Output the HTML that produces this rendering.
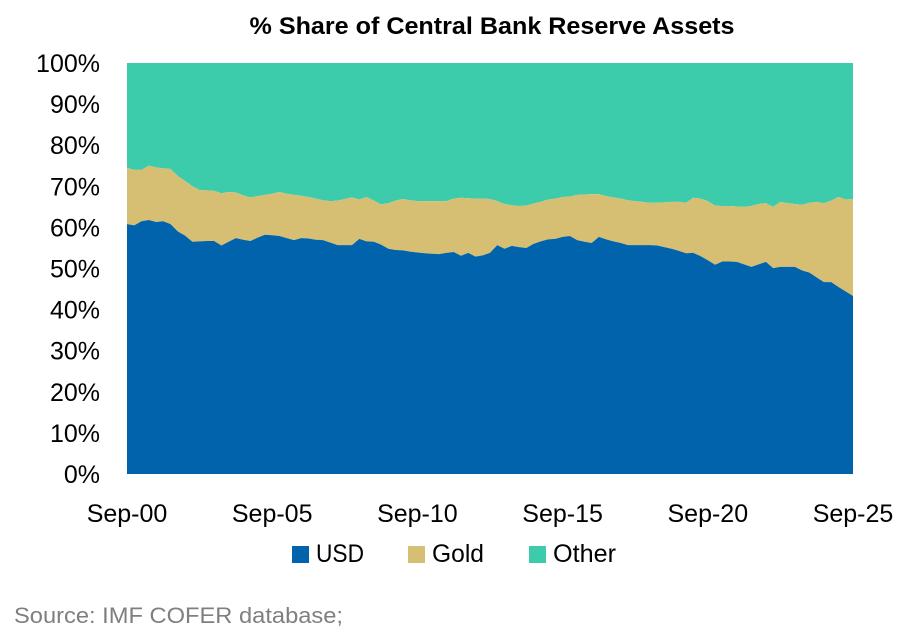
<!DOCTYPE html>
<html><head><meta charset="utf-8"><style>
body{margin:0;background:#fff;}
svg text{font-family:"Liberation Sans",sans-serif;}
</style></head><body>
<svg id="chart" width="910" height="633" xmlns="http://www.w3.org/2000/svg">
<text x="492" y="34" text-anchor="middle" font-size="24" font-weight="bold" textLength="485" lengthAdjust="spacingAndGlyphs">% Share of Central Bank Reserve Assets</text>
<g id="plot"></g>
<g id="yaxis"></g>
<g id="xaxis"></g>
<g>
<g><rect x="292" y="546" width="17" height="17" fill="#0063ac"/><text x="316" y="562" font-size="25" textLength="48" lengthAdjust="spacingAndGlyphs">USD</text></g>
<g><rect x="408" y="546" width="17" height="17" fill="#d6bf72"/><text x="432" y="562" font-size="25" textLength="52" lengthAdjust="spacingAndGlyphs">Gold</text></g>
<g><rect x="529" y="546" width="17" height="17" fill="#3ccbab"/><text x="553" y="562" font-size="25" textLength="63" lengthAdjust="spacingAndGlyphs">Other</text></g>
</g>
<text x="14" y="623" font-size="22" fill="#7f7f7f" textLength="329" lengthAdjust="spacingAndGlyphs">Source: IMF COFER database;</text>
</svg>
<script>
const usdShare=[60.8,60.5,61.5,61.8,61.3,61.5,60.8,59,58,56.5,56.6,56.7,56.7,55.6,56.5,57.4,57,56.7,57.5,58.2,58.1,57.9,57.4,56.9,57.4,57.3,57,56.9,56.3,55.7,55.7,55.7,57.2,56.6,56.5,55.8,54.8,54.5,54.4,54.1,53.9,53.7,53.6,53.5,53.8,54,53.1,53.8,52.9,53.2,53.8,55.7,54.8,55.5,55.2,55,56,56.6,57.1,57.2,57.7,57.9,56.9,56.5,56.2,57.7,57.1,56.6,56.2,55.7,55.7,55.7,55.7,55.6,55.2,54.8,54.3,53.7,53.8,53,52,50.9,51.7,51.7,51.6,51,50.4,51,51.6,50.1,50.4,50.4,50.4,49.5,49,47.8,46.7,46.7,45.5,44.4,43.3];
const usdPlusGold=[74.5,74,74,75,74.6,74.4,74.2,72.5,71.3,70,69.1,69,68.9,68.3,68.6,68.5,67.8,67.3,67.6,67.9,68.2,68.6,68.2,67.9,67.7,67.4,67,66.6,66.4,66.5,66.9,67.3,66.8,67.4,66.5,65.6,65.9,66.5,66.9,66.6,66.4,66.4,66.4,66.4,66.4,67,67.2,67.1,67,67,66.9,66.4,65.7,65.4,65.2,65.3,65.8,66.2,66.8,67,67.4,67.5,67.9,68,68.1,68.1,67.6,67.3,67,66.6,66.4,66.2,66,66,66.1,66.2,66.2,66,67.2,67,66.4,65.3,65.2,65.2,65.1,65,65.2,65.7,65.9,65,66.2,65.9,65.7,65.5,66,66.2,65.9,66.5,67.4,66.8,66.9];
const yTicks=[0,10,20,30,40,50,60,70,80,90,100];
const xTickLabels=["Sep-00","Sep-05","Sep-10","Sep-15","Sep-20","Sep-25"];
const xTickIndex=[0,20,40,60,80,100];

const NS="http://www.w3.org/2000/svg";
const X0=127,X1=853,Y0=474,Y1=63;
const xs=i=>X0+(X1-X0)*i/(usdShare.length-1);
const ys=v=>Y0-(Y0-Y1)*v/100;
function mk(t,a){const e=document.createElementNS(NS,t);for(const k in a)e.setAttribute(k,a[k]);return e;}
const plot=document.getElementById('plot');
function area(top,bot){let d="M"+xs(0)+","+ys(top[0]);for(let i=1;i<top.length;i++)d+="L"+xs(i)+","+ys(top[i]);for(let i=bot.length-1;i>=0;i--)d+="L"+xs(i)+","+ys(bot[i]);return d+"Z";}
const full=usdShare.map(()=>100),zero=usdShare.map(()=>0);
const pO=mk('path',{d:area(full,usdPlusGold),fill:'#3ccbab'});


plot.appendChild(pO);
const pG=mk('path',{d:area(usdPlusGold,usdShare),fill:'#d6bf72'});


plot.appendChild(pG);
const pU=mk('path',{d:area(usdShare,zero),fill:'#0063ac'});


plot.appendChild(pU);
const ya=document.getElementById('yaxis');
yTicks.forEach(v=>{const t=mk('text',{x:100,y:ys(v)+9,'text-anchor':'end','font-size':25});t.textContent=v+"%";


ya.appendChild(t);});
const xa=document.getElementById('xaxis');
xTickLabels.forEach((l,k)=>{const t=mk('text',{x:xs(xTickIndex[k]),y:522,'text-anchor':'middle','font-size':25});t.textContent=l;


xa.appendChild(t);});
</script>
</body></html>
